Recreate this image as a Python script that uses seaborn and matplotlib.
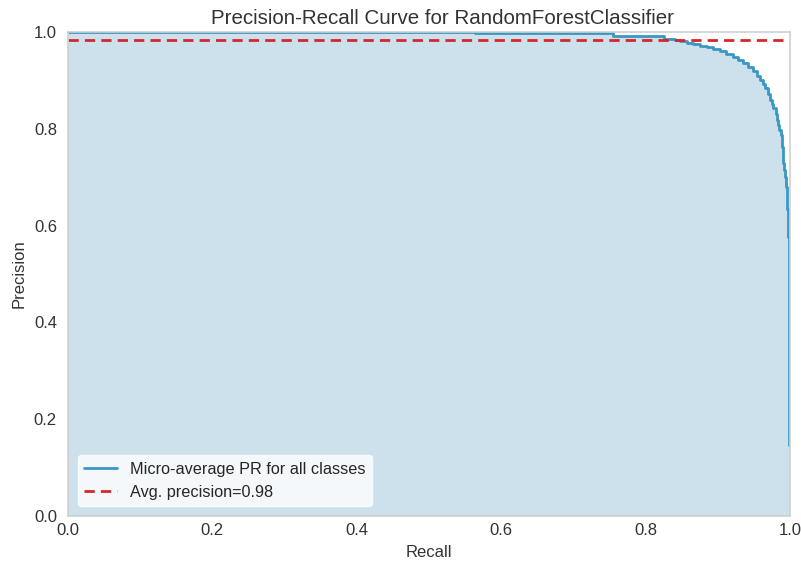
import matplotlib
matplotlib.use("Agg")
import matplotlib.pyplot as plt
import seaborn as sns
import pandas as pd

# Micro-averaged precision-recall curve (step points: precision holds from each recall onward)
recall = [0.0, 0.564, 0.755, 0.825, 0.84, 0.848, 0.858, 0.866, 0.876, 0.885,
          0.894, 0.903, 0.912, 0.921, 0.928, 0.935, 0.942, 0.949, 0.954,
          0.958, 0.962, 0.965, 0.969, 0.972, 0.975, 0.977, 0.980, 0.982,
          0.984, 0.985, 0.987, 0.9885, 0.9895, 0.9900, 0.9907, 0.9920,
          0.9930, 0.9942, 0.9954, 0.9962, 0.9968, 0.9975, 0.9985, 1.0]
precision = [1.0, 0.9975, 0.991, 0.985, 0.983, 0.981, 0.978, 0.975, 0.972, 0.968,
             0.964, 0.960, 0.955, 0.948, 0.942, 0.936, 0.928, 0.919, 0.910,
             0.901, 0.892, 0.884, 0.872, 0.860, 0.851, 0.842, 0.830, 0.818,
             0.808, 0.798, 0.787, 0.775, 0.763, 0.752, 0.729, 0.715,
             0.701, 0.680, 0.660, 0.635, 0.612, 0.576, 0.147, 0.147]
avg_precision = 0.983

title = "Precision-Recall Curve for RandomForestClassifier"
curve_label = "Micro-average PR for all classes"

sns.set_style("white")
plt.rcParams["font.family"] = ["Liberation Sans", "DejaVu Sans"]

line_color = "#3a97c4"
fill_color = "#00699f"
text_color = "#333333"

df = pd.DataFrame({"Recall": recall, "Precision": precision})

fig = plt.figure(figsize=(8.01, 5.66), dpi=100)
ax = fig.add_axes([0.0849, 0.0883, 0.9014, 0.8552])

sns.lineplot(data=df, x="Recall", y="Precision", estimator=None, sort=False,
             drawstyle="steps-post", color=line_color, linewidth=2,
             label=curve_label, ax=ax)
ax.fill_between(df["Recall"], df["Precision"], step="post", alpha=0.2,
                color=fill_color, linewidth=0)
ax.axhline(y=avg_precision, color="#d62728", ls="--", linewidth=2,
           dashes=(3.7, 2.2),
           label="Avg. precision={:0.2f}".format(avg_precision))

ax.set_xlim(0.0, 1.0)
ax.set_ylim(0.0, 1.0)
ax.set_title(title, fontsize=14.8, color=text_color, x=0.519)
ax.set_xlabel("Recall", fontsize=12, color=text_color, labelpad=5)
ax.set_ylabel("Precision", fontsize=12, color=text_color, labelpad=5)
ax.tick_params(axis="both", labelsize=12, colors=text_color, length=0)
ax.tick_params(axis="x", pad=5)
ax.tick_params(axis="y", pad=8)
for s in ax.spines.values():
    s.set_color("#cfcfcf")
    s.set_linewidth(1.2)

leg = ax.legend(loc="lower left", fontsize=11.7, frameon=True, framealpha=0.8,
                facecolor="white", edgecolor="white", handlelength=2.0,
                borderaxespad=0.6)

fig.savefig("out.png", dpi=100)
